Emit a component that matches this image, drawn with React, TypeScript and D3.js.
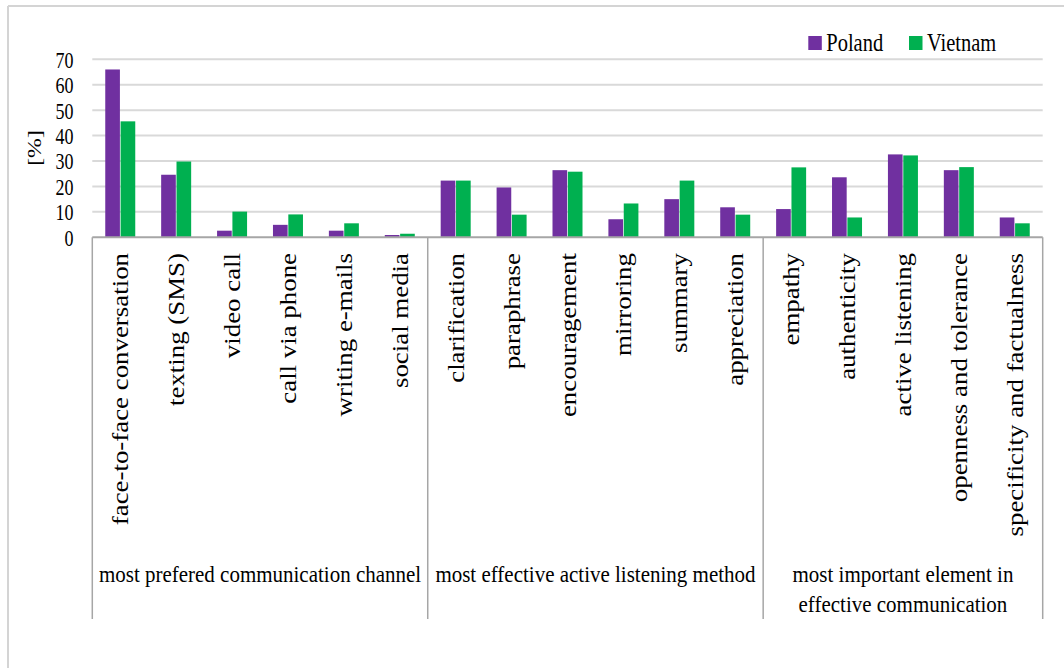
import React from "react";
import * as d3 from "d3";

const categories = [
  "face-to-face conversation", "texting (SMS)", "video call", "call via phone", "writing e-mails", "social media",
  "clarification", "paraphrase", "encouragement", "mirroring", "summary", "appreciation",
  "empathy", "authenticity", "active listening", "openness and tolerance", "specificity and factualness",
];
const groups = [
  { label: ["most prefered communication channel"], start: 0, end: 6 },
  { label: ["most effective active listening method"], start: 6, end: 12 },
  { label: ["most important element in", "effective communication"], start: 12, end: 17 },
];
const seriesNames = ["Poland", "Vietnam"];
const poland = [66, 24.6, 2.6, 4.9, 2.6, 0.9, 22.3, 19.6, 26.4, 7.1, 15, 11.8, 11.1, 23.6, 32.6, 26.4, 7.8];
const vietnam = [45.6, 29.8, 10.1, 9, 5.5, 1.4, 22.3, 8.9, 25.8, 13.3, 22.3, 8.9, 27.5, 7.8, 32.2, 27.6, 5.5];
const colors = ["#7030A0", "#00B050"];
const yTicks = [0, 10, 20, 30, 40, 50, 60, 70];

const FONT = "'Liberation Serif', 'Times New Roman', serif";

export default function App() {
  const x = d3.scaleBand<number>().domain(d3.range(categories.length)).range([92.3, 1042.7]).padding(0);
  const y = d3.scaleLinear().domain([0, 70]).range([237.3, 59.3]);
  const xSub = d3.scaleBand<string>().domain(seriesNames).range([-15, 15]).paddingInner(0.045);
  const data = [poland, vietnam];
  const axisColor = "#a6a6a6";
  const bottom = 619;

  return (
    <svg width={1064} height={668} style={{ position: "absolute", left: 0, top: 0, background: "#fff" }}>
      {/* outer frame */}
      <line x1={8} y1={6} x2={1064} y2={6} stroke="#d4d4d4" strokeWidth={2} />
      <line x1={8} y1={6} x2={8} y2={668} stroke="#d4d4d4" strokeWidth={2} />

      {/* gridlines */}
      {yTicks.filter((t) => t > 0).map((t) => (
        <line key={t} x1={92.3} x2={1042.7} y1={y(t)} y2={y(t)} stroke="#d9d9d9" strokeWidth={2} />
      ))}

      {/* y tick labels */}
      {yTicks.map((t) => (
        <text key={t} transform={`translate(73.5,${y(t) + 8.4}) scale(1,1.25)`} textAnchor="end"
          fontFamily={FONT} fontSize={18} fill="#000">{t}</text>
      ))}
      <text transform={`translate(41,148) rotate(-90) scale(1.25,1)`} textAnchor="middle"
        fontFamily={FONT} fontSize={19} fill="#000">[%]</text>

      {/* bars */}
      {categories.map((c, i) => {
        const cx = (x(i) as number) + x.bandwidth() / 2;
        return (
          <g key={c}>
            {seriesNames.map((s, k) => (
              <rect key={s} x={cx + (xSub(s) as number)} width={xSub.bandwidth()}
                y={y(data[k][i])} height={y(0) - y(data[k][i])} fill={colors[k]} />
            ))}
          </g>
        );
      })}

      {/* axis line */}
      <line x1={92.3} x2={1042.7} y1={y(0)} y2={y(0)} stroke={axisColor} strokeWidth={2} />
      {/* group dividers */}
      {[0, 6, 12, 17].map((b) => {
        const xx = b < categories.length ? (x(b) as number) : 1042.7;
        return <line key={b} x1={xx} x2={xx} y1={y(0)} y2={bottom} stroke={axisColor} strokeWidth={1.5} />;
      })}

      {/* category labels */}
      {categories.map((c, i) => {
        const cx = (x(i) as number) + x.bandwidth() / 2;
        return (
          <text key={c} transform={`translate(${cx + 8},253) rotate(-90) scale(1.12,1)`} textAnchor="end"
            fontFamily={FONT} fontSize={24} fill="#000">{c}</text>
        );
      })}

      {/* group labels */}
      {groups.map((g) => {
        const gx = ((x(g.start) as number) + (g.end < categories.length ? (x(g.end) as number) : 1042.7)) / 2;
        return g.label.map((l, j) => (
          <text key={l} transform={`translate(${gx},${581.5 + j * 30.5}) scale(1,1.12)`} textAnchor="middle"
            fontFamily={FONT} fontSize={21} fill="#000">{l}</text>
        ));
      })}

      {/* legend */}
      {seriesNames.map((s, k) => {
        const lx = [808.3, 909][k];
        return (
          <g key={s}>
            <rect x={lx} y={36} width={13.5} height={14} fill={colors[k]} />
            <text transform={`translate(${lx + 18},51.3) scale(1,1.2)`} fontFamily={FONT} fontSize={20.5} fill="#000">{s}</text>
          </g>
        );
      })}
    </svg>
  );
}
